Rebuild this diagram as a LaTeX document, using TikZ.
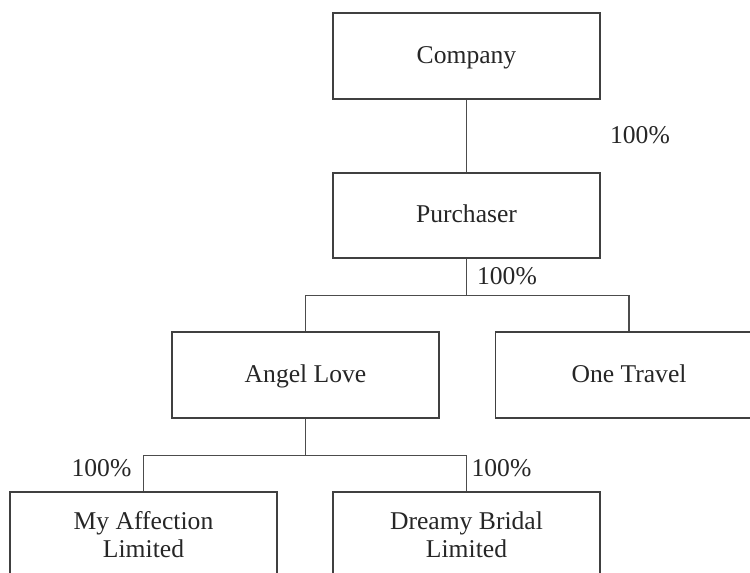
\documentclass[tikz,border=0pt]{standalone}
\usepackage{fontspec}
\setmainfont{Liberation Serif}
\begin{document}
\begin{tikzpicture}[x=0.75pt,y=-0.75pt,
  box/.style={draw=black!75,line width=0.8pt,minimum width=200.25pt,minimum height=64.5pt,inner sep=0pt,align=center,font=\fontsize{19.2}{21}\selectfont,text=black!85},
  onebox/.style={box,text height=1.3em,text depth=0.22em},
  conn/.style={draw=black!70,line width=0.8pt},
  pct/.style={font=\fontsize{19.2}{21}\selectfont,text=black!85,inner sep=0pt}]
\clip (0,0) rectangle (750,572);
\node[onebox] (C) at (466.5,56) {Company};
\node[onebox,minimum height=63.75pt] (P) at (466.5,215.5) {Purchaser};
\node[onebox] (A) at (305.5,375) {Angel Love};
\node[onebox] (O) at (629,375) {One Travel};
\node[box] (M) at (143.5,535) {My Affection\\Limited};
\node[box] (D) at (466.5,535) {Dreamy Bridal\\Limited};
\draw[conn] (C.south) -- (P.north);
\draw[conn] (P.south) -- ++(0,37) coordinate (j1);
\draw[conn] (A.north) |- (j1) -| (O.north);
\draw[conn] (A.south) -- ++(0,37) coordinate (j2);
\draw[conn] (M.north) |- (j2) -| (D.north);
\node[pct] (l1) at (640,135) {100\%};
\node[pct] (l2) at (507,276) {100\%};
\node[pct] (l3) at (101.5,468) {100\%};
\node[pct] (l4) at (501.5,468) {100\%};
\end{tikzpicture}
\end{document}
